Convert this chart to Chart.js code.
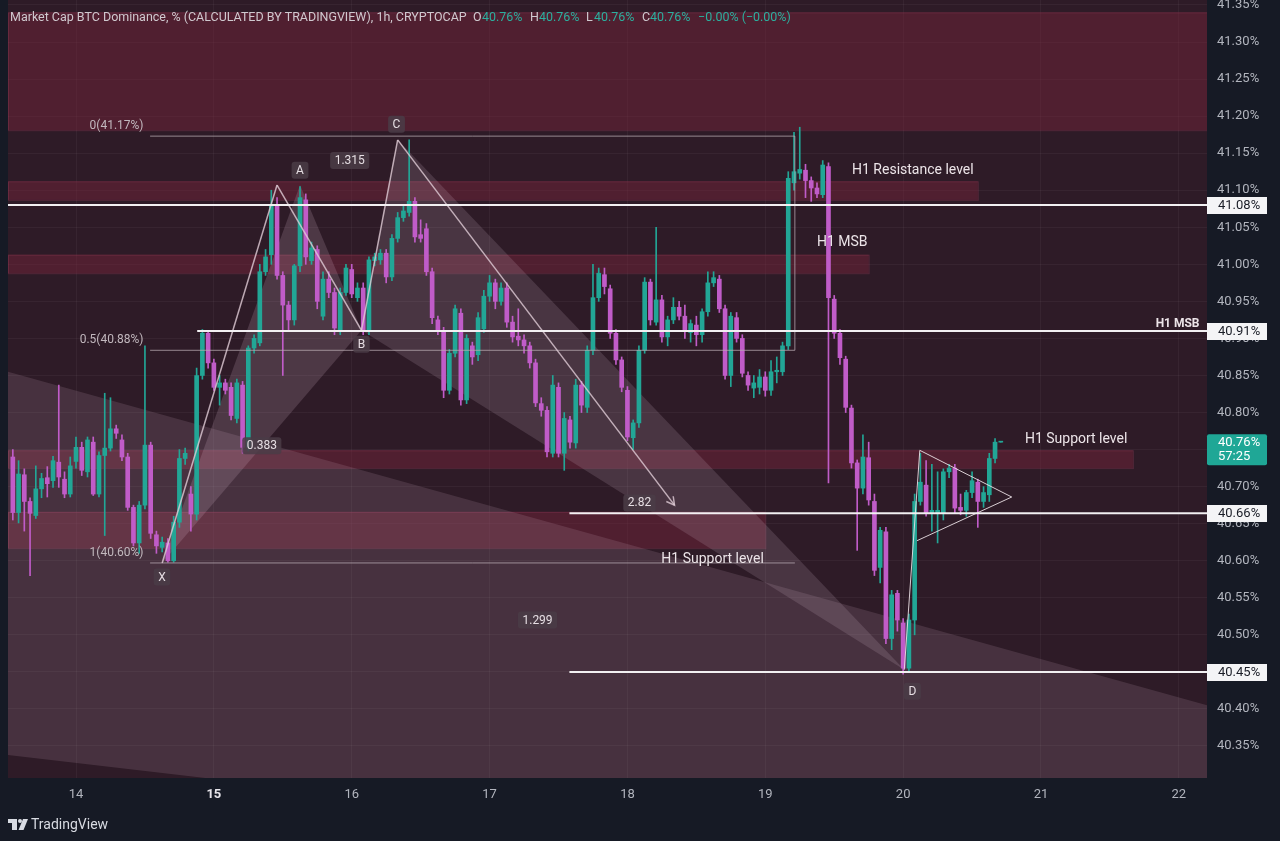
<!DOCTYPE html>
<html><head><meta charset="utf-8">
<script src="https://cdn.jsdelivr.net/npm/chart.js@4.4.1/dist/chart.umd.min.js"></script>
<style>
html,body{margin:0;padding:0;background:#161a25;overflow:hidden}
canvas{display:block}
</style></head><body>
<canvas id="c" width="1280" height="841"></canvas>
<script>
// ---- DATA (1h candles, hour 0 = Jan 14 00:00) ----
const firstHour = -11;
const opens = [
40.74,40.665,40.716,40.68,40.661,40.697,40.712,40.708,40.733,40.71,40.69,
40.734,40.753,40.72,40.76,40.69,40.742,40.752,40.778,40.763,40.74,
40.672,40.624,40.675,40.756,40.635,40.618,40.624,40.60,40.652,40.738,
40.69,40.663,40.85,40.907,40.867,40.834,40.84,40.834,40.792,40.837,
40.753,40.887,40.894,40.99,41.013,41.08,40.985,40.945,40.925,40.998,
41.087,41.005,41.02,40.93,40.98,40.962,40.91,40.962,40.993,40.955,
40.968,40.91,41.005,41.006,41.015,40.983,41.035,41.063,41.07,41.085,
41.04,41.048,40.99,40.925,40.91,40.83,40.88,40.934,40.817,40.89,
40.878,40.913,40.957,40.975,40.95,40.968,40.922,40.903,40.898,40.89,
40.867,40.812,40.803,40.745,40.834,40.745,40.79,40.759,40.837,40.807,
40.884,40.955,40.986,40.967,40.907,40.871,40.83,40.766,40.786,40.884,
40.976,40.922,40.952,40.902,40.925,40.942,40.93,40.908,40.918,40.905,
40.936,40.975,40.98,40.94,40.85,40.928,40.90,40.85,40.833,40.834,
40.848,40.83,40.855,40.855,40.89,41.11,41.123,41.127,41.113,41.103,
41.094,41.132,40.953,40.907,40.872,40.806,40.732,40.698,40.739,40.68,
40.591,40.639,40.495,40.556,40.516,40.455,40.52,40.68,40.702,40.665,
40.664,40.664,40.72,40.725,40.672,40.668,40.692,40.706,40.68,40.689,
40.738,40.76];
const highs = [
40.75,40.735,40.724,40.685,40.728,40.718,40.727,40.741,40.837,40.72,40.74,
40.767,40.76,40.767,40.767,40.747,40.826,40.82,40.783,40.77,40.745,
40.675,40.68,40.89,40.76,40.64,40.632,40.63,40.66,40.75,40.752,
40.70,40.86,40.912,40.91,40.872,40.85,40.845,40.84,40.845,40.842,
40.89,40.905,41.0,41.02,41.10,41.09,40.99,40.95,41.0,41.105,
41.095,41.03,41.025,40.99,40.99,40.968,40.968,41.0,41.0,40.975,
40.975,41.01,41.015,41.02,41.02,41.04,41.07,41.08,41.168,41.09,
41.06,41.055,40.995,40.93,40.915,40.885,40.945,40.94,40.905,40.895,
40.935,40.965,40.985,40.98,40.975,40.975,40.93,40.94,40.905,40.895,
40.872,40.82,40.808,40.85,40.84,40.80,40.795,40.845,40.842,40.89,
41.0,40.995,40.995,40.972,40.912,40.875,40.835,40.79,40.89,40.982,
40.98,41.05,40.958,40.93,40.955,40.95,40.945,40.925,40.93,40.94,
40.99,40.99,40.985,40.945,40.935,40.935,40.905,40.855,40.85,40.858,
40.855,40.87,40.875,40.895,41.125,41.178,41.185,41.135,41.118,41.11,
41.14,41.137,40.958,40.912,40.876,40.81,40.736,40.77,40.76,40.69,
40.645,40.645,40.56,40.56,40.522,40.528,40.69,40.745,40.735,40.73,
40.72,40.724,40.73,40.73,40.69,40.695,40.72,40.71,40.70,40.745,
40.765,40.76];
const lows = [
40.655,40.651,40.64,40.58,40.657,40.685,40.686,40.699,40.699,40.685,40.686,
40.725,40.715,40.713,40.688,40.686,40.634,40.748,40.765,40.735,40.668,
40.62,40.61,40.67,40.63,40.61,40.612,40.598,40.598,40.645,40.73,
40.64,40.655,40.845,40.86,40.83,40.81,40.825,40.79,40.786,40.745,
40.748,40.88,40.89,40.985,41.0,40.98,40.85,40.91,40.918,40.99,
41.0,41.0,40.94,40.925,40.955,40.905,40.905,40.958,40.955,40.95,
40.905,40.905,40.998,41.0,40.975,40.978,41.03,41.058,41.065,41.03,
41.03,40.985,40.92,40.905,40.82,40.825,40.875,40.81,40.812,40.865,
40.87,40.908,40.95,40.94,40.945,40.915,40.895,40.89,40.88,40.86,
40.808,40.795,40.74,40.74,40.74,40.722,40.752,40.752,40.80,40.80,
40.878,40.95,40.96,40.90,40.865,40.828,40.762,40.75,40.78,40.88,
40.918,40.918,40.895,40.89,40.92,40.925,40.90,40.895,40.89,40.895,
40.93,40.97,40.935,40.845,40.835,40.895,40.848,40.83,40.82,40.825,
40.822,40.823,40.84,40.85,40.885,41.10,41.115,41.09,41.085,41.09,
41.09,40.705,40.90,40.865,40.80,40.725,40.614,40.69,40.675,40.58,
40.57,40.488,40.48,40.505,40.447,40.45,40.50,40.675,40.66,40.64,
40.624,40.655,40.712,40.665,40.662,40.66,40.685,40.645,40.672,40.68,
40.732,40.76];
const closes = [
40.665,40.717,40.68,40.664,40.697,40.711,40.704,40.735,40.713,40.69,40.728,
40.753,40.722,40.763,40.69,40.742,40.752,40.778,40.772,40.74,40.672,
40.624,40.675,40.756,40.637,40.62,40.625,40.60,40.652,40.738,40.745,
40.663,40.85,40.907,40.867,40.834,40.84,40.83,40.796,40.84,40.753,
40.887,40.90,40.99,41.01,41.08,40.985,40.945,40.925,40.998,41.09,
41.01,41.022,40.95,40.98,40.962,40.914,40.962,40.995,40.96,40.968,
40.91,41.006,41.01,41.015,40.983,41.035,41.063,41.072,41.085,41.037,
41.035,40.99,40.928,40.91,40.83,40.88,40.94,40.817,40.90,40.875,
40.928,40.957,40.975,40.95,40.968,40.922,40.902,40.898,40.89,40.867,
40.813,40.803,40.747,40.837,40.745,40.792,40.76,40.837,40.81,40.884,
40.955,40.988,40.97,40.907,40.871,40.834,40.767,40.786,40.884,40.976,
40.925,40.952,40.902,40.925,40.942,40.93,40.91,40.92,40.905,40.936,
40.975,40.982,40.94,40.85,40.93,40.90,40.853,40.837,40.84,40.848,
40.83,40.855,40.857,40.89,41.116,41.125,41.128,41.113,41.103,41.095,
41.134,40.955,40.907,40.874,40.807,40.732,40.698,40.74,40.682,40.587,
40.641,40.495,40.554,40.52,40.455,40.52,40.68,40.706,40.664,40.668,
40.668,40.72,40.725,40.671,40.668,40.692,40.708,40.68,40.692,40.738,
40.76,40.76];

const dayTickHours = [0,24,48,72,96,120,144,168,192];
const dayTickLabels = ['14','15','16','17','18','19','20','21','22'];
const priceTickValues = [40.35,40.40,40.45,40.50,40.55,40.60,40.65,40.70,40.75,40.80,40.85,40.90,40.95,41.00,41.05,41.10,41.15,41.20,41.25,41.30,41.35];

// horizontal levels (price) and labels on the price axis
const keyLevels = [41.08, 40.91, 40.664, 40.45];
const keyLevelLabels = ['41.08%','40.91%','40.66%','40.45%'];
const keyLevelStart = [-11.84, 21.1, 85.9, 85.9];
const lastPrice = 40.76;
const fibLevels = [41.173, 40.884, 40.597];
const fibLabels = ['0(41.17%)','0.5(40.88%)','1(40.60%)'];

// zones [fromHour, toHour, topPrice, bottomPrice]
const zones = [
  [-11.84, 196.9, 41.340, 41.181],
  [-11.84, 157.0, 41.112, 41.087],
  [-11.84, 138.0, 41.013, 40.988],
  [-11.84, 184.0, 40.749, 40.725],
  [-11.84, 120.0, 40.666, 40.617]
];
// harmonic pattern points [hour, price]
const pX = [15.0, 40.597], pA = [35.0, 41.107], pAf = [39.0, 41.107], pB = [49.7, 40.911],
      pC = [56.0, 41.168], pD = [144.2, 40.453], pArrow = [104.2, 40.675];
const tri = [[146.9, 40.749], [162.9, 40.686], [146.4, 40.627]];
const bigZone = [[-11.84, 40.855], [196.9, 40.405], [196.9, 40.3068], [22.5, 40.3068], [-11.84, 40.338]];

const hours = opens.map((_, i) => firstHour + i);
const UP = '#22a696', DN = '#c05cc8';
const candleColors = opens.map((o, i) => closes[i] >= o ? UP : DN);

function rr(ctx, x, y, w, h, r) {
  ctx.beginPath();
  ctx.moveTo(x + r, y); ctx.lineTo(x + w - r, y); ctx.quadraticCurveTo(x + w, y, x + w, y + r);
  ctx.lineTo(x + w, y + h - r); ctx.quadraticCurveTo(x + w, y + h, x + w - r, y + h);
  ctx.lineTo(x + r, y + h); ctx.quadraticCurveTo(x, y + h, x, y + h - r);
  ctx.lineTo(x, y + r); ctx.quadraticCurveTo(x, y, x + r, y); ctx.closePath();
}

const overlay = {
  id: 'overlay',
  beforeDraw(chart) {
    const { ctx, chartArea: a } = chart;
    ctx.save();
    ctx.fillStyle = '#161a25'; ctx.fillRect(0, 0, chart.width, chart.height);
    ctx.fillStyle = '#2e1b27'; ctx.fillRect(a.left, a.top, a.right - a.left, a.bottom - a.top);
    ctx.restore();
  },
  beforeDatasetsDraw(chart) {
    const { ctx, chartArea: a } = chart;
    const xs = chart.scales.x, ys = chart.scales.y;
    const X = h => xs.getPixelForValue(h), Y = p => ys.getPixelForValue(p);
    ctx.save();
    ctx.beginPath(); ctx.rect(a.left, a.top, a.right - a.left, a.bottom - a.top); ctx.clip();
    // zones
    zones.forEach((z, i) => {
      const x1 = X(z[0]), x2 = X(z[1]), y1 = Y(z[2]), y2 = Y(z[3]);
      ctx.fillStyle = 'rgba(122,38,59,0.45)';
      ctx.fillRect(x1, y1, x2 - x1, y2 - y1);
      ctx.strokeStyle = 'rgba(170,70,100,0.28)'; ctx.lineWidth = 1;
      ctx.strokeRect(x1 + 0.5, y1 + 0.5, x2 - x1, y2 - y1);
    });
    const poly = (pts, col) => {
      ctx.beginPath();
      pts.forEach((p, i) => i ? ctx.lineTo(X(p[0]), Y(p[1])) : ctx.moveTo(X(p[0]), Y(p[1])));
      ctx.closePath(); ctx.fillStyle = col; ctx.fill();
    };
    poly(bigZone, 'rgba(215,180,200,0.15)');
    poly([pX, pAf, pB], 'rgba(220,190,210,0.18)');
    poly([pB, pC, pD], 'rgba(220,190,210,0.16)');
    ctx.restore();
  },
  afterDatasetsDraw(chart) {
    const { ctx, chartArea: a } = chart;
    const xs = chart.scales.x, ys = chart.scales.y;
    const X = h => xs.getPixelForValue(h), Y = p => ys.getPixelForValue(p);
    ctx.save();
    ctx.beginPath(); ctx.rect(a.left, a.top, a.right - a.left, a.bottom - a.top); ctx.clip();
    const line = (p, q, col, w) => {
      ctx.beginPath(); ctx.moveTo(X(p[0]), Y(p[1])); ctx.lineTo(X(q[0]), Y(q[1]));
      ctx.strokeStyle = col; ctx.lineWidth = w; ctx.stroke();
    };
    // fib retracement
    fibLevels.forEach((p, i) => {
      line([12.9, p], [125.15, p], 'rgba(185,172,180,0.75)', 1);
    });
    line([125.15, fibLevels[0]], [125.15, fibLevels[1]], 'rgba(185,172,180,0.75)', 1);
    ctx.font = '12px Roboto, sans-serif'; ctx.fillStyle = '#c2b8be';
    ctx.textAlign = 'right'; ctx.textBaseline = 'middle';
    fibLabels.forEach((t, i) => ctx.fillText(t, X(11.75), Y(fibLevels[i]) - 10));
    // harmonic lines
    const pc = 'rgba(225,205,215,0.8)';
    line(pX, pA, pc, 1.5); line(pA, pB, pc, 1.5); line(pB, pC, pc, 1.5); line(pC, pArrow, pc, 1.5);
    // arrow head
    {
      const x2 = X(pArrow[0]), y2 = Y(pArrow[1]);
      const ang = Math.atan2(y2 - Y(pC[1]), x2 - X(pC[0]));
      ctx.beginPath();
      ctx.moveTo(x2 - 9 * Math.cos(ang - 0.5), y2 - 9 * Math.sin(ang - 0.5));
      ctx.lineTo(x2, y2);
      ctx.lineTo(x2 - 9 * Math.cos(ang + 0.5), y2 - 9 * Math.sin(ang + 0.5));
      ctx.strokeStyle = pc; ctx.lineWidth = 1.5; ctx.stroke();
    }
    // triangle near D
    const tc = 'rgba(235,225,230,0.9)';
    line(pD, tri[0], tc, 1); line(tri[0], tri[1], tc, 1); line(tri[2], tri[1], tc, 1);
    // white key levels
    keyLevels.forEach((p, i) => line([keyLevelStart[i], p], [196.9, p], '#f2f0f2', 2));
    // text annotations
    ctx.fillStyle = '#ece4e8'; ctx.font = '14px Roboto, sans-serif';
    ctx.textAlign = 'left'; ctx.textBaseline = 'middle';
    ctx.fillText('H1 Resistance level', X(135.1), Y(41.127));
    ctx.fillText('H1 MSB', X(129.0), Y(41.029));
    ctx.fillText('H1 Support level', X(165.2), Y(40.764));
    ctx.fillText('H1 Support level', X(101.9), Y(40.602));
    ctx.font = 'bold 12px Roboto, sans-serif'; ctx.textAlign = 'right';
    ctx.fillText('H1 MSB', X(195.6), Y(40.919));
    // tags
    const tag = (pt, text) => {
      ctx.font = '12px Roboto, sans-serif';
      const w = ctx.measureText(text).width + 9, h = 17;
      const x = X(pt[0]), y = Y(pt[1]);
      ctx.fillStyle = 'rgba(74,60,70,0.85)';
      rr(ctx, x - w / 2, y - h / 2, w, h, 3); ctx.fill();
      ctx.fillStyle = '#e6dee3'; ctx.textAlign = 'center'; ctx.textBaseline = 'middle';
      ctx.fillText(text, x, y + 0.5);
    };
    tag([39.0, 41.127], 'A'); tag([49.7, 40.892], 'B'); tag([55.8, 41.189], 'C');
    tag([14.96, 40.578], 'X'); tag([145.6, 40.424], 'D');
    tag([47.65, 41.14], '1.315'); tag([32.35, 40.755], '0.383');
    tag([98.1, 40.678], '2.82'); tag([80.35, 40.52], '1.299');
    ctx.restore();
  },
  afterDraw(chart) {
    const { ctx, chartArea: a } = chart;
    const ys = chart.scales.y;
    ctx.save();
    // price axis boxes
    ctx.font = '13px Roboto, sans-serif'; ctx.textAlign = 'left'; ctx.textBaseline = 'middle';
    keyLevels.forEach((p, i) => {
      const y = Math.round(ys.getPixelForValue(p));
      ctx.fillStyle = '#f4f4f6'; ctx.fillRect(a.right, y - 8, 60, 17);
      ctx.fillStyle = '#1a1d27'; ctx.fillText(keyLevelLabels[i], a.right + 11, y + 1);
    });
    {
      const y = ys.getPixelForValue(lastPrice);
      ctx.fillStyle = '#1fa796'; rr(ctx, a.right, y - 8, 60, 31, 2); ctx.fill();
      ctx.fillStyle = '#ffffff';
      ctx.fillText(lastPrice.toFixed(2) + '%', a.right + 11, y + 1);
      ctx.fillText('57:25', a.right + 11, y + 15);
    }
    // header legend
    ctx.textBaseline = 'middle';
    const hdr = 'Market Cap BTC Dominance, % (CALCULATED BY TRADINGVIEW), 1h, CRYPTOCAP';
    ctx.font = '12px Roboto, sans-serif';
    const w = ctx.measureText(hdr).width;
    const fs = Math.min(13.5, 12 * 457 / w);
    ctx.font = fs.toFixed(2) + 'px Roboto, sans-serif';
    ctx.fillStyle = '#cfc9cf';
    ctx.fillText(hdr, 10, 18);
    const seg = [['O', 473, '#cfc9cf'], ['40.76%', 482, '#2bb09f'], ['H', 530, '#cfc9cf'], ['40.76%', 539, '#2bb09f'],
                 ['L', 586, '#cfc9cf'], ['40.76%', 594, '#2bb09f'], ['C', 642, '#cfc9cf'], ['40.76%', 650, '#2bb09f'],
                 ['\u22120.00% (\u22120.00%)', 698, '#2bb09f']];
    seg.forEach(s => { ctx.fillStyle = s[2]; ctx.fillText(s[0], s[1], 18); });
    // footer logo
    ctx.fillStyle = '#d8dbe2';
    ctx.fillRect(8, 819, 9, 4); ctx.fillRect(12, 819, 5, 11);
    ctx.beginPath(); ctx.arc(20, 821, 2, 0, Math.PI * 2); ctx.fill();
    ctx.beginPath(); ctx.moveTo(23, 819); ctx.lineTo(28, 819); ctx.lineTo(23.5, 830); ctx.lineTo(18.5, 830); ctx.closePath(); ctx.fill();
    ctx.font = '14px Roboto, sans-serif'; ctx.fillStyle = '#d8dbe2';
    ctx.fillText('TradingView', 31, 825);
    ctx.restore();
  }
};

new Chart(document.getElementById('c'), {
  type: 'bar',
  data: {
    datasets: [
      {
        label: 'body',
        data: hours.map((h, i) => ({ x: h, y: [opens[i], closes[i]] })),
        backgroundColor: candleColors,
        barThickness: 4, minBarLength: 1, grouped: false, borderWidth: 0, order: 0
      },
      {
        label: 'wick',
        data: hours.map((h, i) => ({ x: h, y: [lows[i], highs[i]] })),
        backgroundColor: candleColors,
        barThickness: 1, grouped: false, borderWidth: 0, order: 1
      }
    ]
  },
  options: {
    responsive: false, animation: false,
    layout: { padding: { left: 8, right: 0, top: 0, bottom: 35 } },
    plugins: { legend: { display: false }, tooltip: { enabled: false } },
    scales: {
      x: {
        type: 'linear', min: -11.84, max: 196.9, offset: false,
        afterBuildTicks: s => { s.ticks = dayTickHours.map(v => ({ value: v })); },
        afterFit: s => { s.height = 28; s.paddingLeft = 0; s.paddingRight = 0; },
        grid: { color: 'rgba(255,255,255,0.045)', drawTicks: false, offset: false },
        border: { display: false },
        ticks: {
          autoSkip: false, maxRotation: 0, padding: 9,
          color: c => (c.tick && c.tick.value === 24) ? '#e6e4ea' : '#b2b5be',
          font: c => ({ family: 'Roboto', size: 13, weight: (c.tick && c.tick.value === 24) ? 'bold' : 'normal' }),
          callback: v => dayTickLabels[dayTickHours.indexOf(v)]
        }
      },
      y: {
        position: 'right', min: 40.3068, max: 41.3567,
        afterBuildTicks: s => { s.ticks = priceTickValues.map(v => ({ value: v })); },
        afterFit: s => { s.width = 73; s.paddingTop = 0; s.paddingBottom = 0; },
        grid: { color: 'rgba(255,255,255,0.045)', drawTicks: false },
        border: { display: false },
        ticks: { padding: 10, color: '#b2b5be', font: { family: 'Roboto', size: 13 }, callback: v => v.toFixed(2) + '%' }
      }
    }
  },
  plugins: [overlay]
});
</script>
</body></html>
